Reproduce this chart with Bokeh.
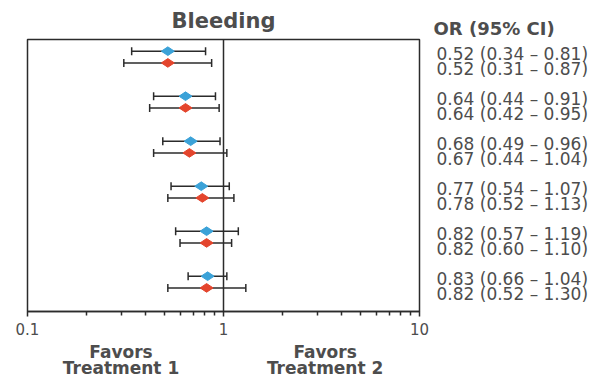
import math
from bokeh.plotting import figure
from bokeh.layouts import row
from bokeh.models import (Range1d, FixedTicker, Whisker, ColumnDataSource,
                          Span, Title, LogAxis)
from bokeh.core.properties import value
from bokeh.embed import file_html
from bokeh.resources import INLINE

# Odds ratios with 95% confidence intervals, six strata, two estimates each
blue_or = [0.52, 0.64, 0.68, 0.77, 0.82, 0.83]
blue_lo = [0.34, 0.44, 0.49, 0.54, 0.57, 0.66]
blue_hi = [0.81, 0.91, 0.96, 1.07, 1.19, 1.04]

red_or = [0.52, 0.64, 0.67, 0.78, 0.82, 0.82]
red_lo = [0.31, 0.42, 0.44, 0.52, 0.60, 0.52]
red_hi = [0.87, 0.95, 1.04, 1.13, 1.10, 1.30]

major_ticks = [0.1, 1, 10]
minor_ticks = [0.2, 0.3, 0.4, 0.5, 0.6, 0.7, 0.8, 0.9,
               2, 3, 4, 5, 6, 7, 8, 9]
tick_labels = {0.1: "0.1", 1: "1", 10: "10"}

favors_pos = [0.30, 3.3]
favors_labels = {0.30: "Favors\nTreatment 1", 3.3: "Favors\nTreatment 2"}

title_text = "Bleeding"
header_text = "OR (95% CI)"

BLUE = "#3ba2d8"
RED = "#e4452d"
INK = "#2b2b2b"
TEXT = "#4d4d4d"
FONT = "DejaVu Sans"

FRAME_W, FRAME_H = 392, 272
TOP, BOTTOM = 38, 72
PX_PER_ROW = 45.0
n_units = FRAME_H / PX_PER_ROW

n = len(blue_or)
row_center = [i + 0.39 for i in range(n)]
blue_y = [c - 0.13 for c in row_center]
red_y = [c + 0.13 for c in row_center]
# the text lines sit a little lower and further apart than the markers
blue_ty = [c + 0.1 - 0.17 for c in row_center]
red_ty = [c + 0.1 + 0.17 for c in row_center]


def fmt(o, lo, hi):
    return f"{o:.2f} ({lo:.2f} \u2013 {hi:.2f})"


blue_src = ColumnDataSource(dict(
    x=blue_or, lo=blue_lo, hi=blue_hi, y=blue_y, ty=blue_ty,
    lab=[fmt(o, l, h) for o, l, h in zip(blue_or, blue_lo, blue_hi)]))
red_src = ColumnDataSource(dict(
    x=red_or, lo=red_lo, hi=red_hi, y=red_y, ty=red_ty,
    lab=[fmt(o, l, h) for o, l, h in zip(red_or, red_lo, red_hi)]))

# ---- forest panel ----
p = figure(frame_width=FRAME_W, frame_height=FRAME_H, x_axis_type="log",
           x_range=Range1d(0.1, 10), y_range=Range1d(n_units, 0),
           output_backend="svg", toolbar_location=None,
           min_border_left=27, min_border_right=11,
           min_border_top=TOP, min_border_bottom=BOTTOM)

p.background_fill_color = "white"
p.border_fill_color = "white"
p.outline_line_color = INK
p.outline_line_width = 1.5
p.xgrid.visible = False
p.ygrid.visible = False
p.yaxis.visible = False

p.add_layout(Title(text=title_text, align="center", text_font=FONT,
                   text_font_style="bold", text_font_size="21px",
                   text_color=TEXT, standoff=13), "above")

ax = p.xaxis[0]
ax.ticker = FixedTicker(ticks=major_ticks, minor_ticks=minor_ticks)
ax.major_label_overrides = tick_labels
ax.axis_line_color = INK
ax.axis_line_width = 1.5
ax.major_tick_line_color = INK
ax.major_tick_line_width = 1.5
ax.major_tick_in = 0
ax.major_tick_out = 5
ax.minor_tick_line_color = INK
ax.minor_tick_line_width = 1.5
ax.minor_tick_in = 0
ax.minor_tick_out = 4
ax.major_label_standoff = 6
ax.major_label_text_font = FONT
ax.major_label_text_font_size = "15px"
ax.major_label_text_color = TEXT

fav = LogAxis(ticker=FixedTicker(ticks=favors_pos),
              major_label_overrides=favors_labels,
              axis_line_color=None, major_tick_line_color=None,
              minor_tick_line_color=None, major_label_standoff=-2,
              major_label_text_font=FONT, major_label_text_font_style="bold",
              major_label_text_font_size="17px",
              major_label_text_color=TEXT,
              major_label_text_line_height=0.8)
p.add_layout(fav, "below")

# line of no effect
p.add_layout(Span(location=1, dimension="height", line_color=INK,
                  line_width=1.5))

# confidence intervals
for src in (blue_src, red_src):
    w = Whisker(source=src, base="y", lower="lo", upper="hi",
                dimension="width", line_color=INK, line_width=1.5,
                level="underlay")
    for head in (w.upper_head, w.lower_head):
        head.size = 8
        head.line_color = INK
        head.line_width = 1.5
    p.add_layout(w)

p.scatter("x", "y", source=blue_src, marker="diamond", angle=math.pi / 2,
          size=13, fill_color=BLUE, line_color=BLUE)
p.scatter("x", "y", source=red_src, marker="diamond", angle=math.pi / 2,
          size=13, fill_color=RED, line_color=RED)

# ---- OR (95% CI) column, sharing the row positions ----
t = figure(frame_width=186, frame_height=FRAME_H, x_range=Range1d(0, 186),
           y_range=p.y_range, output_backend="svg", toolbar_location=None,
           min_border_left=0, min_border_right=0,
           min_border_top=TOP, min_border_bottom=BOTTOM)
t.axis.visible = False
t.grid.visible = False
t.outline_line_color = None
t.background_fill_color = "white"
t.border_fill_color = "white"

t.add_layout(Title(text=header_text, align="left", offset=3,
                   text_font=FONT, text_font_style="bold",
                   text_font_size="18px", text_color=TEXT,
                   standoff=2), "above")

for src in (blue_src, red_src):
    t.text(x=6, y="ty", text="lab", source=src, text_baseline="middle",
           text_align="left", text_font=value(FONT),
           text_font_size="17px", text_color=TEXT)

layout = row(p, t)
open("out.html", "w").write(file_html(layout, INLINE))
